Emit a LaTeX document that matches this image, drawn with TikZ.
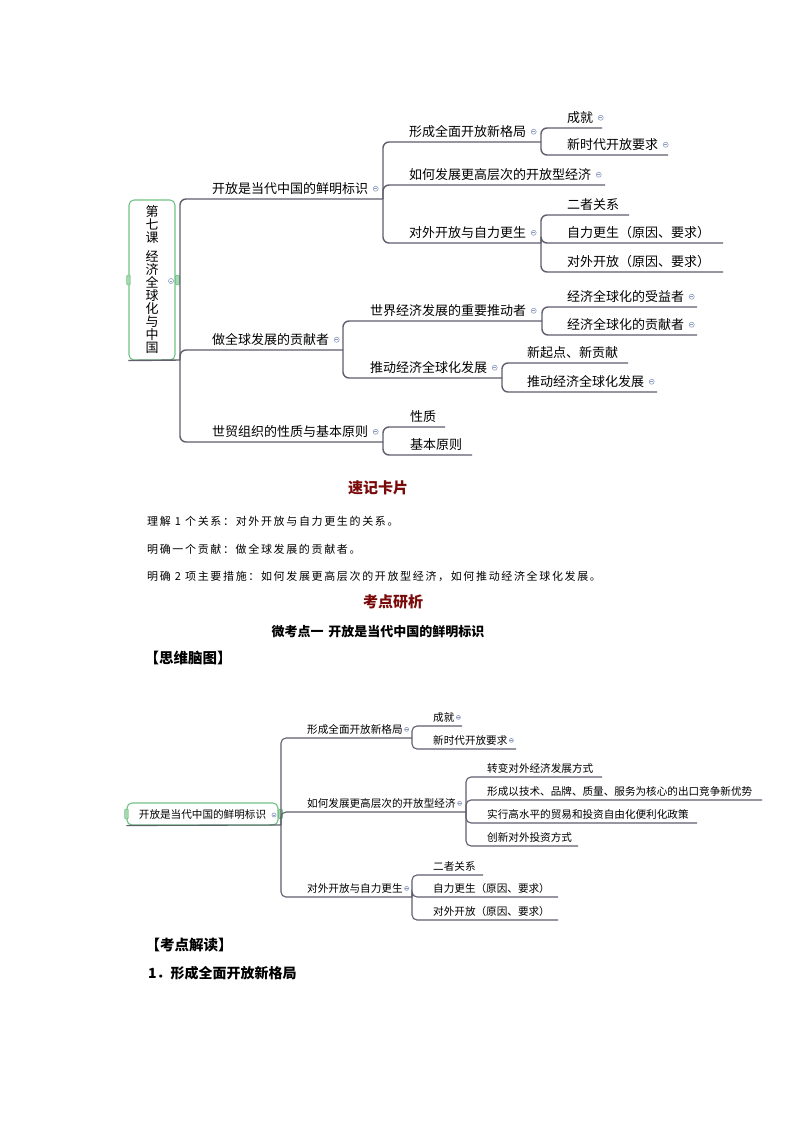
\documentclass[tikz,border=0pt]{standalone}
\usepackage{fontspec}
\newfontfamily\cjk{Noto Sans CJK SC}
\newfontfamily\cjkspaced[LetterSpace=15]{Noto Sans CJK SC}
\definecolor{linec}{HTML}{5F5F6E}
\definecolor{foldc}{HTML}{8A9BBF}
\definecolor{rootc}{HTML}{72C285}
\definecolor{handlec}{HTML}{5DB870}
\definecolor{headc}{HTML}{7A0A0A}
\begin{document}
\begin{tikzpicture}[x=1pt, y=-1pt,
    branch/.style={draw=linec, line width=1.4pt, rounded corners=6pt},
    subbranch/.style={branch, line width=1.1pt, rounded corners=5pt},
    topic/.style={anchor=south west, inner xsep=0pt, inner ysep=4pt, font=\cjk\fontsize{13}{15}\selectfont},
    subtopic/.style={topic, inner ysep=3.5pt, font=\cjk\fontsize{10.6}{12}\selectfont},
    fold/.style={circle, draw=foldc, fill=white, line width=0.6pt, inner sep=0pt, minimum size=5pt,
        path picture={\draw[foldc, line width=0.6pt] ([xshift=-1.3pt]path picture bounding box.center) -- ([xshift=1.3pt]path picture bounding box.center);}},
    folded/.style={label={[fold, xshift=4.5pt]right:{}}},
    subfolded/.style={label={[fold, minimum size=4pt, xshift=1.5pt]right:{}}},
    rootbox/.style={draw=rootc, line width=1.1pt, rounded corners=5pt, fill=white, inner sep=0pt},
    handle/.style={draw=handlec, fill=handlec!55, rounded corners=1.2pt, minimum width=4pt, minimum height=10pt, inner sep=0pt},
    heading/.style={inner sep=0pt, font=\cjk\bfseries\fontsize{15}{18}\selectfont, text=headc},
    note/.style={anchor=west, inner sep=0pt, font=\cjkspaced\fontsize{11}{13}\selectfont},
    title/.style={anchor=west, inner sep=0pt, font=\cjk\bfseries\fontsize{14}{16}\selectfont}]
    \useasboundingbox[fill=white] (0,0) rectangle (794,1123);

    % first mind map
    \node[rootbox, minimum width=46pt, minimum height=160pt, align=center, font=\cjk\fontsize{13}{13}\selectfont] (root) at (152,280) {第\\七\\课\\[6pt]经\\济\\全\\球\\化\\与\\中\\国};
    \node[handle] (root-l) at (root.west) {};
    \node[handle] (root-r) at ([xshift=2pt]root.east) {};
    \node[fold] (root-f) at (171,281) {};
    \coordinate (root-e) at (180,360);
    \draw[branch, rounded corners=0pt] (root.south west) -- (root-e);

    \node[topic, folded] (kf) at (212,199) {开放是当代中国的鲜明标识};
    \node[topic, folded] (gx) at (212,350) {做全球发展的贡献者};
    \node[topic, folded] (sm) at (212,442) {世贸组织的性质与基本原则};
    \coordinate (kf-e) at (383,199);
    \coordinate (gx-e) at (343,350);
    \coordinate (sm-e) at (383,442);
    \draw[branch] (root-e) |- (kf.south west) -- (kf-e);
    \draw[branch] (root-e) |- (gx.south west) -- (gx-e);
    \draw[branch] (root-e) |- (sm.south west) -- (sm-e);

    \node[topic, folded] (xc) at (409,142) {形成全面开放新格局};
    \node[topic, folded] (rh) at (409,185) {如何发展更高层次的开放型经济};
    \node[topic, folded] (dw) at (409,243) {对外开放与自力更生};
    \coordinate (xc-e) at (541,142);
    \coordinate (rh-e) at (605,185);
    \coordinate (dw-e) at (541,243);
    \draw[branch] (kf-e) |- (xc.south west) -- (xc-e);
    \draw[branch] (kf-e) |- (rh.south west) -- (rh-e);
    \draw[branch] (kf-e) |- (dw.south west) -- (dw-e);

    \node[topic, folded] (cj) at (567,128) {成就};
    \node[topic, folded] (xs) at (567,155) {新时代开放要求};
    \draw[branch] (xc-e) |- (cj.south west) -- (602,128);
    \draw[branch] (xc-e) |- (xs.south west) -- (668,155);

    \node[topic] (ez) at (567,215) {二者关系};
    \node[topic] (zl) at (567,243) {自力更生（原因、要求）};
    \node[topic] (dk) at (567,272) {对外开放（原因、要求）};
    \draw[branch] (dw-e) |- (ez.south west) -- (629,215);
    \draw[branch] (dw-e) |- (zl.south west) -- (723,243);
    \draw[branch] (dw-e) |- (dk.south west) -- (723,272);

    \node[topic, folded] (sj) at (370,321) {世界经济发展的重要推动者};
    \node[topic, folded] (td) at (370,378) {推动经济全球化发展};
    \coordinate (sj-e) at (542,321);
    \coordinate (td-e) at (502,378);
    \draw[branch] (gx-e) |- (sj.south west) -- (sj-e);
    \draw[branch] (gx-e) |- (td.south west) -- (td-e);

    \node[topic, folded] (sy) at (567,307) {经济全球化的受益者};
    \node[topic, folded] (gz) at (567,335) {经济全球化的贡献者};
    \draw[branch] (sj-e) |- (sy.south west) -- (697,307);
    \draw[branch] (sj-e) |- (gz.south west) -- (697,335);

    \node[topic] (xq) at (527,363) {新起点、新贡献};
    \node[topic, folded] (tj) at (527,392) {推动经济全球化发展};
    \draw[branch] (td-e) |- (xq.south west) -- (628,363);
    \draw[branch] (td-e) |- (tj.south west) -- (657,392);

    \node[topic] (xz) at (410,427) {性质};
    \node[topic] (jb) at (410,455) {基本原则};
    \draw[branch] (sm-e) |- (xz.south west) -- (445,427);
    \draw[branch] (sm-e) |- (jb.south west) -- (472,455);

    % text between the maps
    \node[heading] (card) at (378,488) {速记卡片};
    \node[note] (note1) at (147,521) {理解 1 个关系：对外开放与自力更生的关系。};
    \node[note] (note2) at (147,549) {明确一个贡献：做全球发展的贡献者。};
    \node[note] (note3) at (147,576) {明确 2 项主要措施：如何发展更高层次的开放型经济，如何推动经济全球化发展。};
    \node[heading] (study) at (393,602) {考点研析};
    \node[inner sep=0pt, font=\cjk\bfseries\fontsize{13}{16}\selectfont] (micro) at (378,632) {微考点一\hspace{5pt}开放是当代中国的鲜明标识};
    \node[title, font=\cjk\bfseries\fontsize{14.5}{16}\selectfont] (brain) at (144.5,658) {【思维脑图】};

    % second mind map
    \node[rootbox, minimum width=151pt, minimum height=22pt, font=\cjk\fontsize{10.6}{12}\selectfont] (root2) at (202.5,814) {开放是当代中国的鲜明标识};
    \node[handle] (root2-l) at (root2.west) {};
    \node[handle] (root2-r) at ([xshift=2pt]root2.east) {};
    \node[fold, minimum size=4pt] (root2-f) at (274,815) {};
    \coordinate (root2-e) at (281,825);
    \draw[subbranch, rounded corners=0pt] (root2.south west) -- (root2-e);

    \node[subtopic, subfolded] (b-xc) at (307,738) {形成全面开放新格局};
    \node[subtopic, subfolded] (b-rh) at (307,812) {如何发展更高层次的开放型经济};
    \node[subtopic, subfolded] (b-dw) at (307,897) {对外开放与自力更生};
    \coordinate (b-xc-e) at (412,738);
    \coordinate (b-rh-e) at (466,812);
    \coordinate (b-dw-e) at (412,897);
    \draw[subbranch] (root2-e) |- (b-xc.south west) -- (b-xc-e);
    \draw[subbranch] (root2-e) |- (b-rh.south west) -- (b-rh-e);
    \draw[subbranch] (root2-e) |- (b-dw.south west) -- (b-dw-e);

    \node[subtopic, subfolded] (b-cj) at (433,726) {成就};
    \node[subtopic, subfolded] (b-xs) at (433,749) {新时代开放要求};
    \draw[subbranch] (b-xc-e) |- (b-cj.south west) -- (462,726);
    \draw[subbranch] (b-xc-e) |- (b-xs.south west) -- (516,749);

    \node[subtopic] (b-zb) at (487,777) {转变对外经济发展方式};
    \node[subtopic] (b-yx) at (487,800) {形成以技术、品牌、质量、服务为核心的出口竞争新优势};
    \node[subtopic] (b-sx) at (487,823) {实行高水平的贸易和投资自由化便利化政策};
    \node[subtopic] (b-cx) at (487,846) {创新对外投资方式};
    \draw[subbranch] (b-rh-e) |- (b-zb.south west) -- (602,777);
    \draw[subbranch] (b-rh-e) |- (b-yx.south west) -- (762,800);
    \draw[subbranch] (b-rh-e) |- (b-sx.south west) -- (697,823);
    \draw[subbranch] (b-rh-e) |- (b-cx.south west) -- (578,846);

    \node[subtopic] (b-ez) at (433,875) {二者关系};
    \node[subtopic] (b-zl) at (433,897) {自力更生（原因、要求）};
    \node[subtopic] (b-dk) at (433,920) {对外开放（原因、要求）};
    \draw[subbranch] (b-dw-e) |- (b-ez.south west) -- (483,875);
    \draw[subbranch] (b-dw-e) |- (b-zl.south west) -- (558,897);
    \draw[subbranch] (b-dw-e) |- (b-dk.south west) -- (558,920);

    % below the second map
    \node[title, font=\cjk\bfseries\fontsize{14.5}{16}\selectfont] (read) at (145.5,945) {【考点解读】};
    \node[title] (point1) at (148,973) {1．形成全面开放新格局};
\end{tikzpicture}
\end{document}
